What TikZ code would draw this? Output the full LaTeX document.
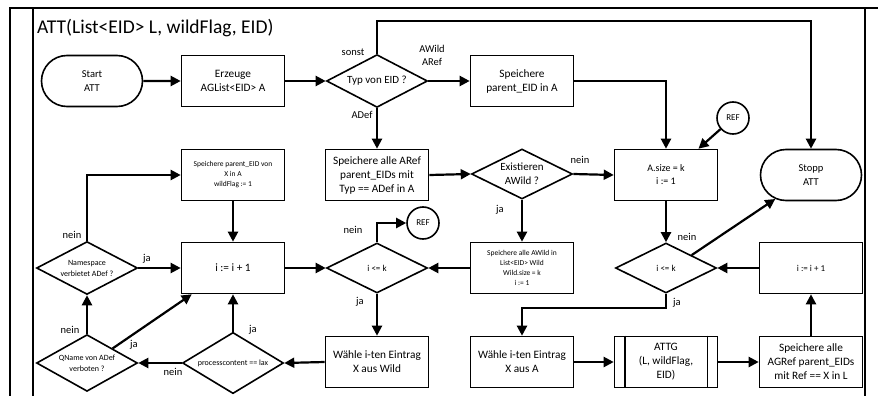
\documentclass[tikz,border=0pt]{standalone}
\usepackage{fontspec}
\setmainfont{Carlito}
\usetikzlibrary{arrows.meta,shapes.geometric,shapes.misc,calc}

\newcommand\fsz[2]{\fontsize{#1}{#2}\selectfont}

\begin{document}
\begin{tikzpicture}[x=1pt,y=-1pt,
  box/.style={draw, line width=1.6pt, minimum width=103pt, minimum height=51pt,
    inner sep=1pt, align=center, font=\fsz{11.3}{14}},
  smallbox/.style={box, font=\fsz{7.5}{10}},
  term/.style={draw, rounded rectangle, line width=1.6pt, minimum width=103pt,
    minimum height=51pt, inner sep=1pt, align=center, font=\fsz{10.5}{13.5}},
  dec/.style={draw, diamond, line width=1.6pt, minimum width=101pt,
    minimum height=50pt, inner sep=-4pt, align=center, font=\fsz{11}{14}},
  smalldec/.style={dec, font=\fsz{8}{11}},
  refc/.style={draw, circle, line width=1.6pt, minimum size=32pt, inner sep=0pt,
    font=\fsz{9}{11}},
  conn/.style={line width=2.2pt, -{Triangle[length=10pt,width=10pt]}},
  lbl/.style={inner sep=0pt, align=center, font=\fsz{10.5}{13}},
  frame/.style={line width=1.3pt}
]
\useasboundingbox (0,0) rectangle (878,396);

% lane frame
\draw[frame] (10,396) -- (10,8) -- (878,8);
\draw[frame] (33,8) -- (33,396);
\draw[frame] (865,8) -- (865,396);
\node[anchor=west, inner sep=0pt, font=\fsz{19.5}{22}] (title) at (37,28)
  {ATT(List<EID> L, wildFlag, EID)};

% top row
\node[term] (start) at (92,81) {Start\\ATT};
\node[box] (erz) at (233,81) {Erzeuge\\AGList<EID> A};
\node[dec] (typ) at (377,81) {Typ von EID ?};
\node[box] (sp1) at (522,81) {Speichere\\parent\_EID in A};

% second row
\node[smallbox] (spx) at (233,175) {Speichere parent\_EID von\\X in A\\wildFlag := 1};
\node[box] (sp2) at (377,175) {Speichere alle ARef\\parent\_EIDs mit\\Typ == ADef in A};
\node[dec] (ex) at (522,174) {Existieren\\AWild ?};
\node[box, font=\fsz{10}{13}] (asize) at (666,175) {A.size = k\\i := 1};
\node[term] (stop) at (811,175) {Stopp\\ATT};
\node[refc] (ref1) at (733,118) {REF};

% third row
\node[smalldec] (ns) at (87,268) {Namespace\\verbietet ADef ?};
\node[box] (inc1) at (233,268) {i := i + 1};
\node[dec, font=\fsz{9}{11}] (dia1) at (377,268) {i <= k};
\node[smallbox] (spw) at (522,268) {Speichere alle AWild in\\List<EID> Wild\\Wild.size = k\\i := 1};
\node[dec, font=\fsz{9}{11}] (dia2) at (666,268) {i <= k};
\node[box, font=\fsz{9}{11}] (inc2) at (811,268) {i := i + 1};
\node[refc] (ref2) at (423,223) {REF};

% bottom row
\node[smalldec] (qn) at (87,363) {QName von ADef\\verboten ?};
\node[smalldec] (pc) at (233,363) {processcontent == lax};
\node[box] (ww) at (377,362) {Wähle i-ten Eintrag\\X aus Wild};
\node[box] (wa) at (522,362) {Wähle i-ten Eintrag\\X aus A};
\node[box] (attg) at (666,362) {ATTG\\(L, wildFlag,\\EID)};
\draw[line width=1.6pt] ($(attg.north west)+(11,0)$) -- ($(attg.south west)+(11,0)$);
\draw[line width=1.6pt] ($(attg.north east)+(-11,0)$) -- ($(attg.south east)+(-11,0)$);
\node[box] (sp4) at (811,362) {Speichere alle\\AGRef parent\_EIDs\\mit Ref == X in L};

% connectors
\draw[conn] (start) -- (erz);
\draw[conn] (erz) -- (typ);
\draw[conn] (typ.east) -- (sp1.west);
\draw[conn] (typ.north) -- ++(0,-33) -| (stop.north);
\draw[conn] (typ.south) -- (sp2.north);
\draw[conn] (sp1.east) -| (asize.north);
\draw[conn] (ref1) -- (asize.39);
\draw[conn] (sp2.east) -- (ex.west);
\draw[conn] (ex.east) -- (asize.west);
\draw[conn] (ex.south) -- (spw.north);
\draw[conn] (asize.south) -- (dia2.north);
\draw[conn] (dia2.north east) -- (stop);
\draw[conn] (inc2.west) -- (dia2.east);
\draw[conn] (dia2.south) -- ++(0,14) -| (wa.north);
\draw[conn] (wa.east) -- (attg.west);
\draw[conn] (attg.east) -- (sp4.west);
\draw[conn] (sp4.north) -- (inc2.south);
\draw[conn] (spw.west) -- (dia1.east);
\draw[conn] (dia1.north) |- (ref2.west);
\draw[conn] (dia1.south) -- (ww.north);
\draw[conn] (inc1.east) -- (dia1.west);
\draw[conn] (ww.west) -- (pc.east);
\draw[conn] (pc.north) -- (inc1.south);
\draw[conn] (pc.west) -- (qn.east);
\draw[conn] (qn.north) -- (ns.south);
\draw[conn] (qn.north east) -- ($(inc1.south west)+(11,0)$);
\draw[conn] (ns.east) -- (inc1.west);
\draw[conn] (ns.north) |- (spx.west);
\draw[conn] (spx.south) -- (inc1.north);

% branch labels
\node[lbl] (lsonst) at (353,52) {sonst};
\node[lbl] (lawild) at (432,55) {AWild\\ARef};
\node[lbl] (ladef) at (362,115) {ADef};
\node[lbl] (lexn) at (580,160) {nein};
\node[lbl] (lexj) at (500,210) {ja};
\node[lbl] (ld2n) at (687,237) {nein};
\node[lbl] (ld2j) at (677,303) {ja};
\node[lbl] (ld1n) at (353,230) {nein};
\node[lbl] (ld1j) at (360,302) {ja};
\node[lbl] (lpcj) at (253,330) {ja};
\node[lbl] (lpcn) at (173,372) {nein};
\node[lbl] (lqnn) at (70,330) {nein};
\node[lbl] (lqnj) at (134,345) {ja};
\node[lbl] (lnsj) at (147,259) {ja};
\node[lbl] (lnsn) at (72,235) {nein};
\end{tikzpicture}
\end{document}
